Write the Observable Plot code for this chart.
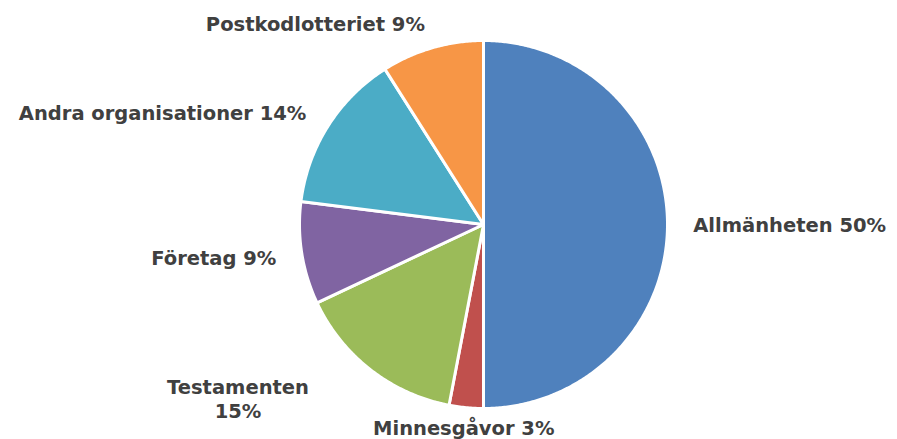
<!DOCTYPE html>
<html><head><meta charset="utf-8">
<script src="https://cdn.jsdelivr.net/npm/d3@7"></script>
<script src="https://cdn.jsdelivr.net/npm/@observablehq/plot@0.6"></script>
<style>
html,body{margin:0;padding:0;background:#fff;}
#chart{width:897px;height:439px;}
</style></head>
<body><div id="chart"></div>
<script>
const categories = ["Allmänheten","Minnesgåvor","Testamenten","Företag","Andra organisationer","Postkodlotteriet"];
const values = [50,3,15,9,14,9];
const colors = ["#4F81BD","#C0504D","#9BBB59","#8064A2","#4BACC6","#F79646"];
const wrapped = ["Testamenten"];

const W = 897, H = 439;
const cx = 483, cy = 224, r = 184;
const fontSize = 19.5;
const fontFamily = "'DejaVu Sans', Verdana, sans-serif";
const total = d3.sum(values);

// build slice polygons (angles clockwise from 12 o'clock)
let acc = 0;
const slices = categories.map((c, i) => {
  const a0 = acc / total * 2 * Math.PI;
  acc += values[i];
  const a1 = acc / total * 2 * Math.PI;
  return {c, v: values[i], a0, a1, mid: (a0 + a1) / 2, color: colors[i]};
});
const pts = [];
slices.forEach(s => {
  pts.push({c: s.c, x: 0, y: 0});
  const n = Math.max(4, Math.ceil((s.a1 - s.a0) / (Math.PI / 360)));
  for (let k = 0; k <= n; k++) {
    const a = s.a0 + (s.a1 - s.a0) * k / n;
    pts.push({c: s.c, x: r * Math.sin(a), y: r * Math.cos(a)});
  }
  pts.push({c: s.c, x: 0, y: 0});
});

const ctx = document.createElement("canvas").getContext("2d");
ctx.font = `bold ${fontSize}px ${fontFamily}`;
const lr = r * 1.14;
const labels = slices.map(s => {
  const sx = Math.sin(s.mid), sy = Math.cos(s.mid);
  let x = lr * sx;
  let y = lr * sy;
  y = Math.max(y, -(H - cy - 12));
  let anchor = sx > 0.2 ? "start" : sx < -0.2 ? "end" : "middle";
  const isWrapped = wrapped.includes(s.c);
  const text = isWrapped ? `${s.c}\n${s.v}%` : `${s.c} ${s.v}%`;
  if (isWrapped && anchor !== "middle") {
    const w = d3.max(text.split("\n"), t => ctx.measureText(t).width);
    x += (anchor === "end" ? -1 : 1) * (w / 2 + 46);
    y -= 8;
    anchor = "middle";
  }
  return {x, y, anchor, text};
});

const textOpts = {x: "x", y: "y", text: "text", fill: "#404040", fontSize, fontWeight: "bold", lineHeight: 1.25};
const chart = Plot.plot({
  width: W, height: H,
  margin: 0,
  x: {domain: [-cx, W - cx], axis: null},
  y: {domain: [-(H - cy), cy], axis: null},
  style: {fontFamily, background: "#fff"},
  marks: [
    Plot.line(pts, {x: "x", y: "y", z: "c", fill: d => slices.find(s => s.c === d.c).color, stroke: "#fff", strokeWidth: 3, strokeLinejoin: "round", curve: "linear"}),
    Plot.text(labels.filter(d => d.anchor === "start"), {...textOpts, textAnchor: "start"}),
    Plot.text(labels.filter(d => d.anchor === "end"), {...textOpts, textAnchor: "end"}),
    Plot.text(labels.filter(d => d.anchor === "middle"), {...textOpts, textAnchor: "middle"})
  ]
});
document.getElementById("chart").appendChild(chart);
</script>
</body></html>
